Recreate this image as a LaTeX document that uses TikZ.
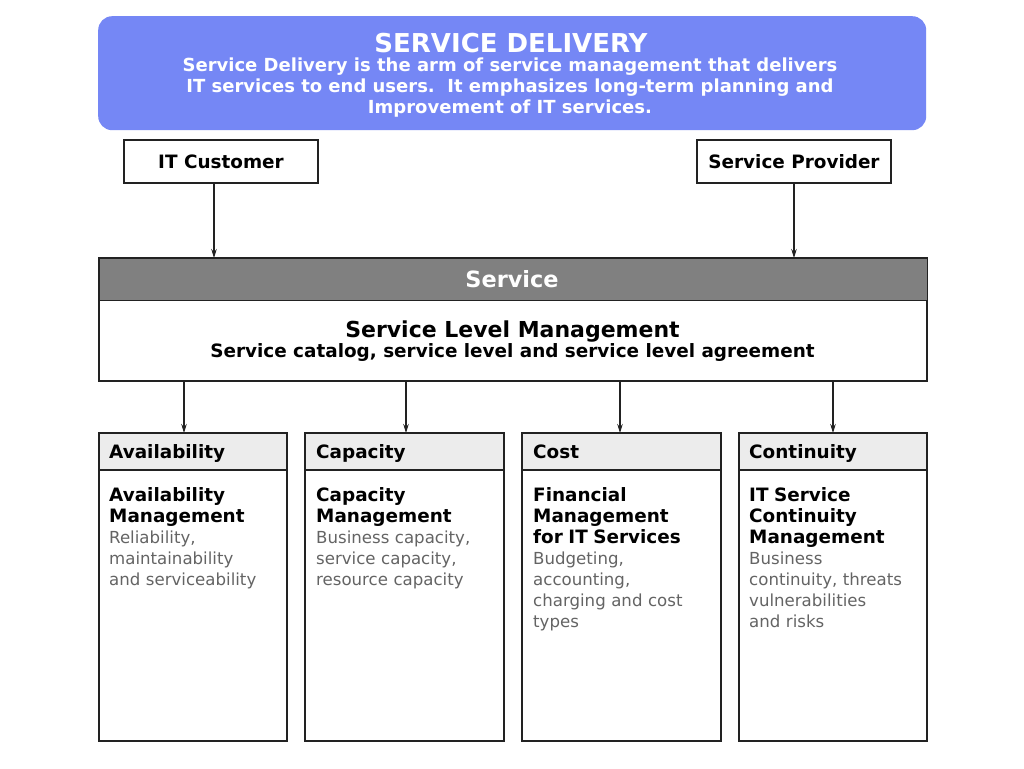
\documentclass[tikz,border=0pt]{standalone}
\usepackage{fontspec}
\setmainfont{DejaVu Sans}
\usetikzlibrary{arrows.meta}
\definecolor{sdblue}{RGB}{117,135,245}
\definecolor{hdrgray}{RGB}{128,128,128}
\definecolor{boxhdr}{RGB}{236,236,236}
\definecolor{txtgray}{RGB}{100,100,100}
\definecolor{linec}{RGB}{34,34,34}
\newcommand{\bfnt}{\fontsize{18.4}{21}\selectfont\bfseries\color{black}}
\newcommand{\gfnt}{\fontsize{16.6}{21}\selectfont\mdseries\color{txtgray}}
\begin{document}
\begin{tikzpicture}[x=1pt,y=-1pt,
  box/.style={draw=linec, line width=1.4pt, fill=white, inner sep=0pt, outer sep=0pt},
  hdr/.style={draw=linec, line width=1.4pt, fill=boxhdr, inner sep=0pt, outer sep=0pt, anchor=north west, minimum height=37pt},
  lbl/.style={font=\bfnt, inner sep=0pt, text=black},
  body/.style={anchor=base west, inner sep=0pt, text width=180pt, align=left, font=\gfnt},
  arr/.style={-{Stealth[length=9pt,width=5.5pt]}, line width=1.1pt, draw=linec}]
\useasboundingbox (0,0) rectangle (1024,768);
\fill[white] (0,0) rectangle (1024,768);

% Service Delivery banner
\node[fill=sdblue, rounded corners=14pt, minimum width=828pt, minimum height=114pt, anchor=north west, inner sep=0pt] (sd) at (98,16) {};
\node[font=\fontsize{26}{30}\selectfont\bfseries, text=white, anchor=base, inner sep=0pt] (sdt) at (511,52.5) {SERVICE DELIVERY};
\node[font=\fontsize{18}{21}\selectfont\bfseries, text=white, anchor=base, align=center, inner sep=0pt] (sdb) at (510,113.5)
  {Service Delivery is the arm of service management that delivers\\IT services to end users.\ \ It emphasizes long-term planning and\\Improvement of IT services.};

% Customer / provider
\node[box, lbl, minimum width=194pt, minimum height=43pt, text height=13.4pt, text depth=0pt] (itc) at (221,161.5) {IT Customer};
\node[box, lbl, minimum width=194pt, minimum height=43pt, text height=13.4pt, text depth=0pt] (sp) at (794,161.5) {Service Provider};

% Service block
\node[box, minimum width=828pt, minimum height=123pt, anchor=north west] (svc) at (99,258) {};
\node[draw=linec, line width=1.4pt, fill=hdrgray, minimum width=828pt, minimum height=42pt, anchor=north west, inner sep=0pt] (svch) at (99,258) {};
\node[font=\fontsize{22.4}{26}\selectfont\bfseries, text=white, anchor=base, inner sep=0pt] (svct) at (512,287) {Service};
\node[font=\fontsize{22}{26}\selectfont\bfseries, anchor=base, inner sep=0pt] (slm) at (512.5,337) {Service Level Management};
\node[font=\bfnt, anchor=base, inner sep=0pt] (slms) at (512.5,357.5) {Service catalog, service level and service level agreement};

% Lower boxes
\node[box, minimum width=188pt, minimum height=308pt, anchor=north west] (b1) at (99,433) {};
\node[box, minimum width=199pt, minimum height=308pt, anchor=north west] (b2) at (305,433) {};
\node[box, minimum width=199pt, minimum height=308pt, anchor=north west] (b3) at (522,433) {};
\node[box, minimum width=188pt, minimum height=308pt, anchor=north west] (b4) at (739,433) {};
\node[hdr, minimum width=188pt] (h1) at (99,433) {};
\node[hdr, minimum width=199pt] (h2) at (305,433) {};
\node[hdr, minimum width=199pt] (h3) at (522,433) {};
\node[hdr, minimum width=188pt] (h4) at (739,433) {};

\node[lbl, anchor=base west] (t1) at (109,458.5) {Availability};
\node[lbl, anchor=base west] (t2) at (316,458.5) {Capacity};
\node[lbl, anchor=base west] (t3) at (533,458.5) {Cost};
\node[lbl, anchor=base west] (t4) at (749,458.5) {Continuity};

\node[body] (d1) at (109,501) {{\bfnt Availability\\Management}\\Reliability,\\maintainability\\and serviceability};
\node[body] (d2) at (316,501) {{\bfnt Capacity\\Management}\\Business capacity,\\service capacity,\\resource capacity};
\node[body] (d3) at (533,501) {{\bfnt Financial\\Management\\for IT Services}\\Budgeting,\\accounting,\\charging and cost\\types};
\node[body] (d4) at (749,501) {{\bfnt IT Service\\Continuity\\Management}\\Business\\continuity, threats\\vulnerabilities\\and risks};

% Connectors
\coordinate (xa) at (214,0);
\coordinate (xb) at (794,0);
\coordinate (x1) at (184,0);
\coordinate (x2) at (406,0);
\coordinate (x3) at (620,0);
\coordinate (x4) at (833,0);
\draw[arr] (itc.south -| xa) -- (svch.north -| xa);
\draw[arr] (sp.south -| xb) -- (svch.north -| xb);
\draw[arr] (svc.south -| x1) -- (h1.north -| x1);
\draw[arr] (svc.south -| x2) -- (h2.north -| x2);
\draw[arr] (svc.south -| x3) -- (h3.north -| x3);
\draw[arr] (svc.south -| x4) -- (h4.north -| x4);
\end{tikzpicture}
\end{document}
